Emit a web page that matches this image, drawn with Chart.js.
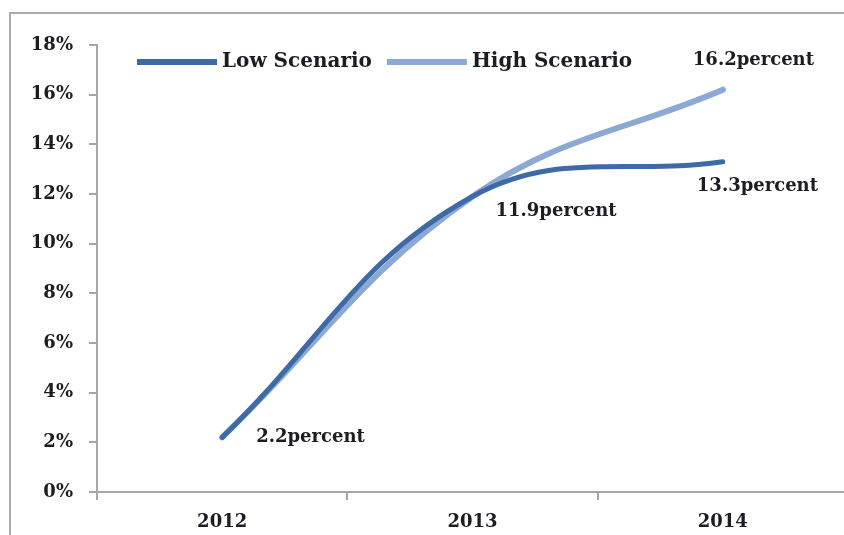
<!DOCTYPE html>
<html>
<head>
<meta charset="utf-8">
<script src="https://cdn.jsdelivr.net/npm/chart.js@4/dist/chart.umd.min.js"></script>
<style>
  html, body { margin: 0; padding: 0; width: 844px; height: 535px; overflow: hidden; background: #fff; }
  #wrap { position: absolute; left: 0; top: 0; width: 844px; height: 535px; overflow: hidden; }
  canvas { display: block; }
</style>
</head>
<body>
<div id="wrap"><canvas id="c" width="860" height="535" style="width:860px;height:535px"></canvas></div>
<script>
// ---- data ----
const categories = ['2012', '2013', '2014'];
const lowScenario = [2.2, 11.9, 13.3];
const highScenario = [2.2, 11.9, 16.2];
const seriesNames = ['Low Scenario', 'High Scenario'];
const yTicks = [0, 2, 4, 6, 8, 10, 12, 14, 16, 18];
const pointLabels = ['2.2percent', '11.9percent', '13.3percent', '16.2percent'];

const LOW_COLOR = '#3e6ba7';
const HIGH_COLOR = '#8ba9d4';
const AXIS_COLOR = '#a6a6a6';
const FRAME_COLOR = '#ababab';
const TEXT_COLOR = '#1c1c22';
const FONT = '"DejaVu Serif", serif';

const framePlugin = {
  id: 'frame',
  beforeDraw(chart) {
    const ctx = chart.ctx;
    ctx.save();
    ctx.strokeStyle = FRAME_COLOR;
    ctx.lineWidth = 2;
    ctx.beginPath();
    ctx.moveTo(10, chart.height + 5);
    ctx.lineTo(10, 13);
    ctx.lineTo(chart.width + 5, 13);
    ctx.stroke();
    ctx.restore();
  }
};

const annotationPlugin = {
  id: 'annot',
  afterDatasetsDraw(chart) {
    const ctx = chart.ctx;
    const m0 = chart.getDatasetMeta(0).data;
    const m1 = chart.getDatasetMeta(1).data;
    const items = [
      { p: m1[0], t: pointLabels[0], dx: 34, dy: 0 },
      { p: m0[1], t: pointLabels[1], dx: 23, dy: 15 },
      { p: m0[2], t: pointLabels[2], dx: -26, dy: 25 },
      { p: m1[2], t: pointLabels[3], dx: -30, dy: -29 },
    ];
    ctx.save();
    ctx.font = 'bold 18px ' + FONT;
    ctx.fillStyle = TEXT_COLOR;
    ctx.textAlign = 'left';
    ctx.textBaseline = 'middle';
    items.forEach(it => ctx.fillText(it.t, it.p.x + it.dx, it.p.y + it.dy));
    ctx.restore();
  }
};

const legendPlugin = {
  id: 'customLegend',
  afterDraw(chart) {
    const ctx = chart.ctx;
    ctx.save();
    ctx.font = 'bold 20px ' + FONT;
    ctx.textBaseline = 'middle';
    let x = 137;
    const y = 62;
    chart.data.datasets.forEach((ds, i) => {
      ctx.strokeStyle = ds.borderColor;
      ctx.lineWidth = 6;
      ctx.lineCap = 'butt';
      ctx.beginPath();
      ctx.moveTo(x, y);
      ctx.lineTo(x + 80, y);
      ctx.stroke();
      ctx.fillStyle = TEXT_COLOR;
      ctx.fillText(ds.label, x + 85, y);
      x += 85 + ctx.measureText(ds.label).width + 15;
    });
    ctx.restore();
  }
};

new Chart(document.getElementById('c'), {
  type: 'line',
  data: {
    labels: categories,
    datasets: [
      { label: seriesNames[0], data: lowScenario, borderColor: LOW_COLOR, backgroundColor: LOW_COLOR,
        borderWidth: 5, tension: 0.4, pointRadius: 0, borderCapStyle: 'round', fill: false },
      { label: seriesNames[1], data: highScenario, borderColor: HIGH_COLOR, backgroundColor: HIGH_COLOR,
        borderWidth: 6, tension: 0.4, pointRadius: 0, borderCapStyle: 'round', fill: false },
    ]
  },
  options: {
    responsive: false,
    animation: false,
    layout: { padding: { left: 0, right: 12, top: 45, bottom: 0 } },
    plugins: { legend: { display: false }, tooltip: { enabled: false } },
    scales: {
      x: {
        type: 'category',
        offset: true,
        grid: { offset: true, drawOnChartArea: false, drawTicks: true, tickLength: 8, color: AXIS_COLOR, lineWidth: 2 },
        border: { color: AXIS_COLOR, width: 2 },
        ticks: { color: TEXT_COLOR, font: { family: FONT, size: 18, weight: 'bold' }, padding: 12, maxRotation: 0 },
        afterFit(s) { s.height = 43; }
      },
      y: {
        min: 0, max: 18,
        afterBuildTicks(s) { s.ticks = yTicks.map(v => ({ value: v })); },
        grid: { drawOnChartArea: false, drawTicks: true, tickLength: 8, color: AXIS_COLOR, lineWidth: 2 },
        border: { color: AXIS_COLOR, width: 2 },
        ticks: { color: TEXT_COLOR, font: { family: FONT, size: 18, weight: 'bold' }, padding: 16,
                 callback: v => v + '%' },
        afterFit(s) { s.width = 97; }
      }
    }
  },
  plugins: [framePlugin, annotationPlugin, legendPlugin]
});
</script>
</body>
</html>
